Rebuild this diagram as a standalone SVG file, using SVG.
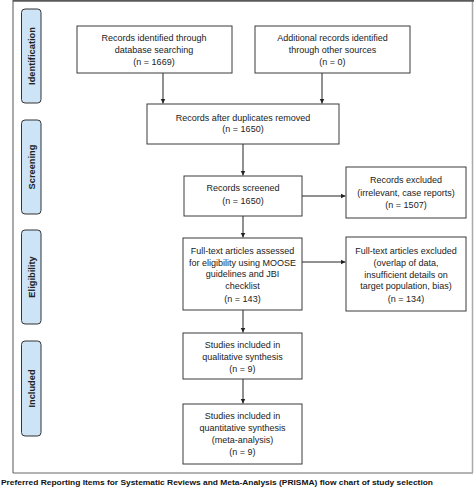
<svg xmlns="http://www.w3.org/2000/svg" width="474" height="487" viewBox="0 0 474 487">
<style>
.box{fill:#fff;stroke:#3a3a3a;stroke-width:1}
.lab{fill:#cce4f6;stroke:#333;stroke-width:1}
.t{font-family:"Liberation Sans",Arial,sans-serif;font-size:9px;fill:#222;text-anchor:middle}
.lt{font-family:"Liberation Sans",Arial,sans-serif;font-size:9.3px;font-weight:bold;fill:#222;text-anchor:middle}
.c{stroke:#222;stroke-width:1;fill:none;marker-end:url(#ah)}
</style>
<defs>
<marker id="ah" markerWidth="6" markerHeight="6" refX="5" refY="3" orient="auto" markerUnits="userSpaceOnUse">
<path d="M0,0.5 L5,3 L0,5.5 Z" fill="#222"/>
</marker>
</defs>
<rect x="0" y="0" width="474" height="487" fill="#fff"/>
<g id="frame">
<line x1="13" y1="0" x2="13" y2="473" stroke="#555" stroke-width="1"/>
<line x1="13" y1="473" x2="473" y2="473" stroke="#666" stroke-width="1"/>
<line x1="472.5" y1="0" x2="472.5" y2="473" stroke="#aaa" stroke-width="1.5"/>
<line x1="13" y1="0.8" x2="474" y2="0.8" stroke="#5a5a5a" stroke-width="2"/>
</g>
<g id="label-identification">
<rect class="lab" x="21.5" y="9" width="19.5" height="94" rx="3.5"/>
<text class="lt" transform="translate(34.6,56) rotate(-90)">Identification</text>
</g>
<g id="label-screening">
<rect class="lab" x="21.5" y="120" width="19.5" height="94" rx="3.5"/>
<text class="lt" transform="translate(34.6,167) rotate(-90)">Screening</text>
</g>
<g id="label-eligibility">
<rect class="lab" x="21.5" y="230" width="19.5" height="94" rx="3.5"/>
<text class="lt" transform="translate(34.6,277) rotate(-90)">Eligibility</text>
</g>
<g id="label-included">
<rect class="lab" x="21.5" y="341" width="19.5" height="95" rx="3.5"/>
<text class="lt" transform="translate(34.6,388.5) rotate(-90)">Included</text>
</g>
<g id="connectors">
<path class="c" d="M163,73 V103.5"/>
<path class="c" d="M322,73 V103.5"/>
<path class="c" d="M243,144 V175.5"/>
<path class="c" d="M302,196 H345.5"/>
<path class="c" d="M243,216 V237.5"/>
<path class="c" d="M302,262 H345.5"/>
<path class="c" d="M243,310 V332.5"/>
<path class="c" d="M243,379 V403.5"/>
</g>
<g id="n1">
<rect class="box" x="77" y="26" width="155" height="47"/>
<text class="t" x="154" y="41">Records identified through</text>
<text class="t" x="154" y="53">database searching</text>
<text class="t" x="154" y="65">(n = 1669)</text>
</g>
<g id="n2">
<rect class="box" x="255" y="26" width="155" height="47"/>
<text class="t" x="332.5" y="41">Additional records identified</text>
<text class="t" x="332.5" y="53">through other sources</text>
<text class="t" x="332.5" y="65">(n = 0)</text>
</g>
<g id="n3">
<rect class="box" x="147" y="104" width="192" height="40"/>
<text class="t" x="243" y="120.5">Records after duplicates removed</text>
<text class="t" x="243" y="131.8">(n = 1650)</text>
</g>
<g id="n4">
<rect class="box" x="184" y="176" width="118" height="40"/>
<text class="t" x="243" y="191">Records screened</text>
<text class="t" x="243" y="203.5">(n = 1650)</text>
</g>
<g id="n5">
<rect class="box" x="346" y="167" width="120" height="51"/>
<text class="t" x="406" y="183">Records excluded</text>
<text class="t" x="406" y="196">(irrelevant, case reports)</text>
<text class="t" x="406" y="208.3">(n = 1507)</text>
</g>
<g id="n6">
<rect class="box" x="183" y="238" width="119" height="72"/>
<text class="t" x="242.5" y="254">Full-text articles assessed</text>
<text class="t" x="242.5" y="266">for eligibility using MOOSE</text>
<text class="t" x="242.5" y="276.6">guidelines and JBI</text>
<text class="t" x="242.5" y="289.3">checklist</text>
<text class="t" x="242.5" y="301.6">(n = 143)</text>
</g>
<g id="n7">
<rect class="box" x="346" y="237" width="120" height="74"/>
<text class="t" x="406" y="254">Full-text articles excluded</text>
<text class="t" x="406" y="266">(overlap of data,</text>
<text class="t" x="406" y="277.6">insufficient details on</text>
<text class="t" x="406" y="289.3">target population, bias)</text>
<text class="t" x="406" y="301.6">(n = 134)</text>
</g>
<g id="n8">
<rect class="box" x="183" y="333" width="119" height="46"/>
<text class="t" x="242.5" y="348.3">Studies included in</text>
<text class="t" x="242.5" y="360">qualitative synthesis</text>
<text class="t" x="242.5" y="372">(n = 9)</text>
</g>
<g id="n9">
<rect class="box" x="183" y="404" width="119" height="60"/>
<text class="t" x="242.5" y="419.3">Studies included in</text>
<text class="t" x="242.5" y="431.3">quantitative synthesis</text>
<text class="t" x="242.5" y="443.3">(meta-analysis)</text>
<text class="t" x="242.5" y="455">(n = 9)</text>
</g>
<text id="caption" x="1" y="485" textLength="432" lengthAdjust="spacingAndGlyphs" font-family="'Liberation Sans',Arial,sans-serif" font-size="8" font-weight="bold" fill="#111">Preferred Reporting Items for Systematic Reviews and Meta-Analysis (PRISMA) flow chart of study selection</text>
</svg>
